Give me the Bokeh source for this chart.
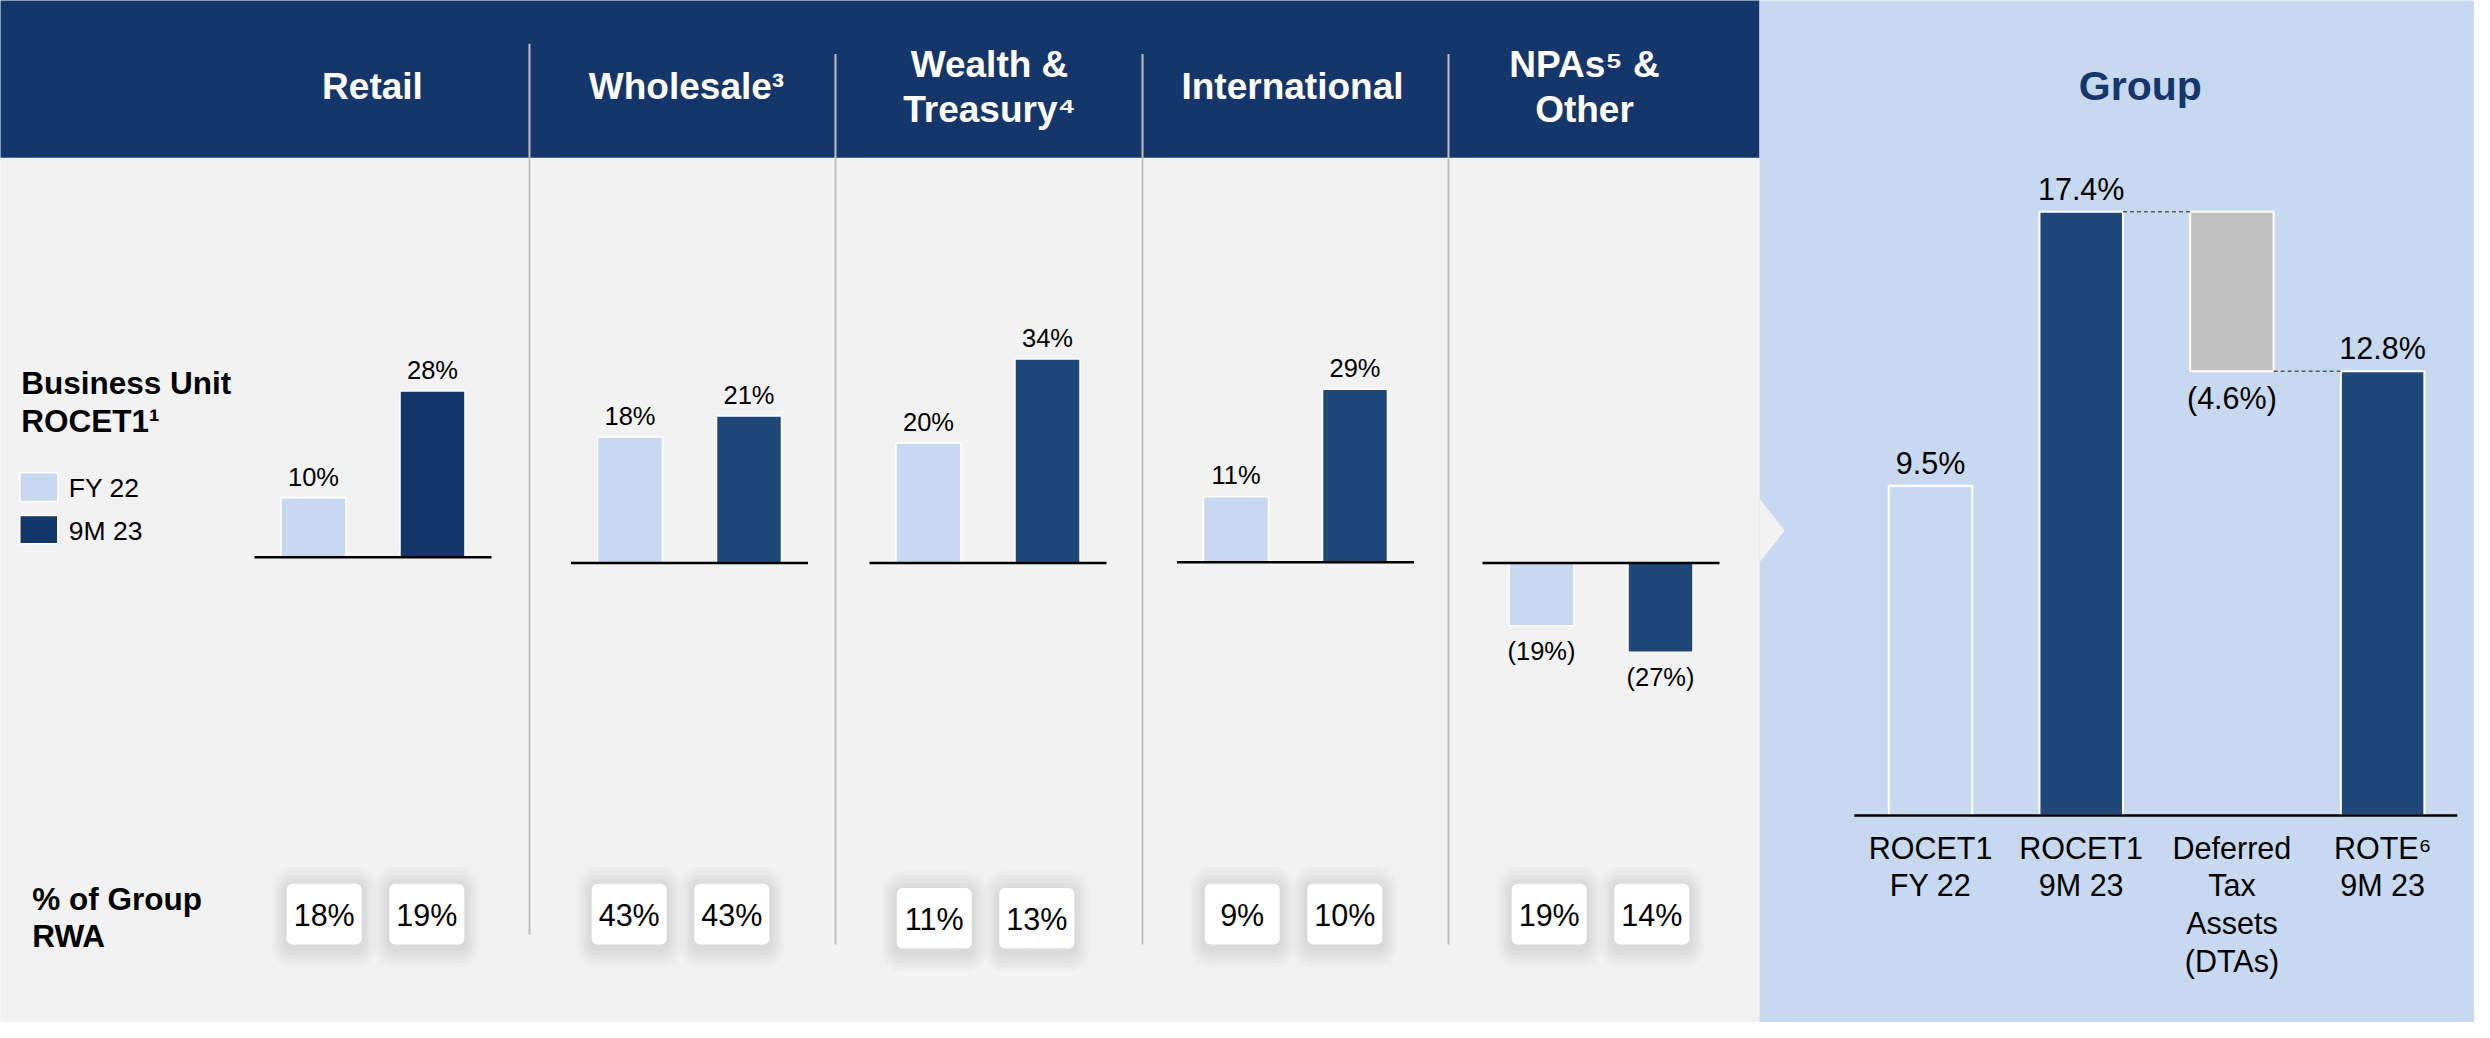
import math
from bokeh.plotting import figure
from bokeh.models import Range1d
from bokeh.core.properties import value
from bokeh.embed import file_html
from bokeh.resources import INLINE

# ---------------- data ----------------
units = ["Retail", "Wholesale³", "Wealth &\nTreasury⁴", "International", "NPAs⁵ &\nOther"]
series_names = ["FY 22", "9M 23"]
rocet_fy22 = [10, 18, 20, 11, -19]
rocet_9m23 = [28, 21, 34, 29, -27]
rwa_fy22 = [18, 43, 11, 9, 19]
rwa_9m23 = [19, 43, 13, 10, 14]

group_title = "Group"
group_categories = ["ROCET1\nFY 22", "ROCET1\n9M 23", "Deferred\nTax\nAssets\n(DTAs)", "ROTE⁶\n9M 23"]
group_values = [9.5, 17.4, -4.6, 12.8]
group_kinds = ["total", "total", "delta", "total"]

left_title = "Business Unit\nROCET1¹"
rwa_title = "% of Group\nRWA"

# ---------------- style / layout ----------------
FONT = value("Liberation Sans")
NAVY = "#14366A"
NAVY2 = "#1F477A"
LIGHT = "#C6D9F0"
GREY_BG = "#F2F2F2"
DTA_GREY = "#BFBFBF"
SEP = "#BFBFBF"

W, H = 2474, 1022
X0, Y0 = 0, 0

panel_center = [372.5, 689.0, 987.5, 1295.0, 1600.5]
title_center = [372.0, 686.0, 989.0, 1292.0, 1584.0]
baseline_y = [556.7, 562.6, 562.6, 561.7, 562.6]
px_per_pct = [5.94, 7.0, 6.0, 5.96, 3.3]
dark_colors = [NAVY, NAVY2, NAVY2, NAVY2, NAVY2]
bar_off, bar_w, base_half = 59.5, 65, 118.5
rwa_mid = [375.0, 680.0, 985.0, 1293.0, 1600.0]
rwa_top = [883.3, 883.3, 887.5, 883.3, 883.3]
rwa_off, rwa_w, rwa_h = 51.3, 75, 60.6
sep_x = [529, 835, 1142, 1448]
sep_y0 = [43.3, 53.6, 53.6, 53.6]
sep_y1 = [934.3, 944, 944, 944]

grp_x0, grp_step, grp_w = 1930.0, 150.7, 83.5
grp_base, grp_k = 815.0, 34.7

p = figure(width=W, height=H, x_range=Range1d(X0, X0 + W), y_range=Range1d(Y0 + H, Y0),
           output_backend="svg", toolbar_location=None, min_border=0,
           x_axis_location=None, y_axis_location=None, outline_line_color=None)
p.grid.visible = False
p.background_fill_color = "white"
p.border_fill_color = "white"


def pct_range(base, k):
    e = (base - Y0) / k
    return Range1d(e - H / k, e)


for i in range(len(units)):
    p.extra_y_ranges[f"u{i}"] = pct_range(baseline_y[i], px_per_pct[i])
p.extra_y_ranges["grp"] = pct_range(grp_base, grp_k)

# backgrounds
p.quad(left=[-5], right=[1759], top=[157.3], bottom=[1040], fill_color=GREY_BG, line_color=None)
p.quad(left=[-5], right=[1759], top=[-5], bottom=[157.3], fill_color=NAVY, line_color=None)
p.quad(left=[1759], right=[2500], top=[-5], bottom=[1040], fill_color=LIGHT, line_color=None)
p.patch(x=[1759, 1784.3, 1759], y=[498.3, 530, 561.7], fill_color=GREY_BG, line_color=None)

# separators
p.segment(x0=sep_x, x1=sep_x, y0=sep_y0, y1=sep_y1, line_color=SEP, line_width=2)


def txt(x, y, t, size, color="black", bold=False, align="center", y_offset=0, **kw):
    shift = -0.36 * size
    if isinstance(y_offset, list):
        yo = [o + shift for o in y_offset]
    else:
        yo = y_offset + shift
    p.text(x=x, y=y, text=t, text_font=FONT, text_font_size=f"{size}px", text_color=color,
           text_font_style="bold" if bold else "normal", text_align=align,
           text_baseline="middle", y_offset=yo, **kw)


def fmt(v, dec=0):
    s = f"{abs(v):.{dec}f}%"
    return f"({s})" if v < 0 else s


# column titles
tx, ty, tt = [], [], []
for i, name in enumerate(units):
    lines = name.split("\n")
    n = len(lines)
    for j, ln in enumerate(lines):
        tx.append(title_center[i])
        ty.append(99.5 + (j - (n - 1) / 2) * 45.2)
        tt.append(ln)
txt(tx, ty, tt, 37, color="white", bold=True)
txt([2139.8], [100.3], [group_title], 41, color=NAVY, bold=True)

# left labels
lt = left_title.split("\n")
txt([20.7] * len(lt), [394.3 + 37.4 * j for j in range(len(lt))], lt, 31.5, bold=True, align="left")
rt = rwa_title.split("\n")
txt([31.7] * len(rt), [910 + 36.6 * j for j in range(len(rt))], rt, 31.5, bold=True, align="left")

# legend
p.quad(left=[19.3, 19.3], right=[57.3, 57.3], top=[472.3, 515], bottom=[501, 543.3],
       fill_color=[LIGHT, NAVY], line_color="white", line_width=1.5)
txt([68.3, 68.3], [497.3, 540], series_names, 26.5, align="left")

# business unit bars
for i in range(len(units)):
    c = panel_center[i]
    rn = f"u{i}"
    vals = [rocet_fy22[i], rocet_9m23[i]]
    xs = [c - bar_off, c + bar_off]
    p.vbar(x=xs, top=vals, bottom=0, width=bar_w, fill_color=[LIGHT, dark_colors[i]],
           line_color="white", line_width=1.5, y_range_name=rn)
    p.segment(x0=[c - base_half], x1=[c + base_half], y0=[0], y1=[0], line_color="black",
              line_width=2.5, y_range_name=rn)
    txt(xs, vals, [fmt(v) for v in vals], 25.5,
        y_offset=[-12 if v >= 0 else 34 for v in vals], y_range_name=rn)


# RWA boxes
def rrect(cx, top, w, h, r, n=8):
    xs, ys = [], []
    l, rgt, t, b = cx - w / 2, cx + w / 2, top, top + h
    corners = [(rgt - r, t + r, -90), (rgt - r, b - r, 0), (l + r, b - r, 90), (l + r, t + r, 180)]
    for ccx, ccy, a0 in corners:
        for k in range(n + 1):
            a = math.radians(a0 + 90 * k / n)
            xs.append(ccx + r * math.cos(a))
            ys.append(ccy + r * math.sin(a))
    return xs, ys


box_cx, box_top, box_txt = [], [], []
for i in range(len(units)):
    for sgn, v in ((-1, rwa_fy22[i]), (1, rwa_9m23[i])):
        box_cx.append(rwa_mid[i] + sgn * rwa_off)
        box_top.append(rwa_top[i])
        box_txt.append(f"{v}%")

for j in range(5, 0, -1):
    sx, sy = [], []
    for cx, tp in zip(box_cx, box_top):
        a, b = rrect(cx, tp - 4 * j + 3, rwa_w + 6 * j, rwa_h + 8 * j, 6 + 3 * j)
        sx.append(a)
        sy.append(b)
    p.patches(xs=sx, ys=sy, fill_color="black", fill_alpha=0.018, line_color=None)

bx, by = [], []
for cx, tp in zip(box_cx, box_top):
    a, b = rrect(cx, tp, rwa_w, rwa_h, 6)
    bx.append(a)
    by.append(b)
p.patches(xs=bx, ys=by, fill_color="white", line_color=None)
txt(box_cx, [t + 42.4 for t in box_top], box_txt, 30.5)

# group waterfall
g_x = [grp_x0 + grp_step * k for k in range(len(group_values))]
g_top, g_bot = [], []
running = 0.0
for v, kind in zip(group_values, group_kinds):
    if kind == "total":
        g_top.append(v)
        g_bot.append(0.0)
        running = v
    else:
        g_top.append(running)
        g_bot.append(running + v)
        running = running + v
g_fill = [LIGHT if k == 0 else (DTA_GREY if kind == "delta" else NAVY2)
          for k, kind in enumerate(group_kinds)]
p.vbar(x=g_x, top=g_top, bottom=g_bot, width=grp_w, fill_color=g_fill, line_color="white",
       line_width=2, y_range_name="grp")
p.segment(x0=[1853.8], x1=[2456.8], y0=[0], y1=[0], line_color="black", line_width=2.5,
          y_range_name="grp")
# dashed connectors around the delta bar
cx0, cx1, cy = [], [], []
for k in range(1, len(group_values)):
    if group_kinds[k] == "delta":
        level = g_top[k]
    elif group_kinds[k - 1] == "delta":
        level = g_bot[k - 1]
    else:
        continue
    cx0.append(g_x[k - 1] + grp_w / 2)
    cx1.append(g_x[k] - grp_w / 2)
    cy.append(level)
p.segment(x0=cx0, x1=cx1, y0=cy, y1=cy, line_color="#595959", line_width=1.5, line_dash="4 3",
          y_range_name="grp")
lab_y = [g_bot[k] if kind == "delta" else g_top[k] for k, kind in enumerate(group_kinds)]
lab_off = [37.6 if kind == "delta" else -12 for kind in group_kinds]
txt(g_x, lab_y, [fmt(v, 1) for v in group_values], 30.5, y_offset=lab_off, y_range_name="grp")

gx, gy, gt = [], [], []
for k, cat in enumerate(group_categories):
    for j, ln in enumerate(cat.split("\n")):
        gx.append(g_x[k])
        gy.append(858.3 + 37.6 * j)
        gt.append(ln)
txt(gx, gy, gt, 30.5)

open("out.html", "w").write(file_html(p, INLINE))
